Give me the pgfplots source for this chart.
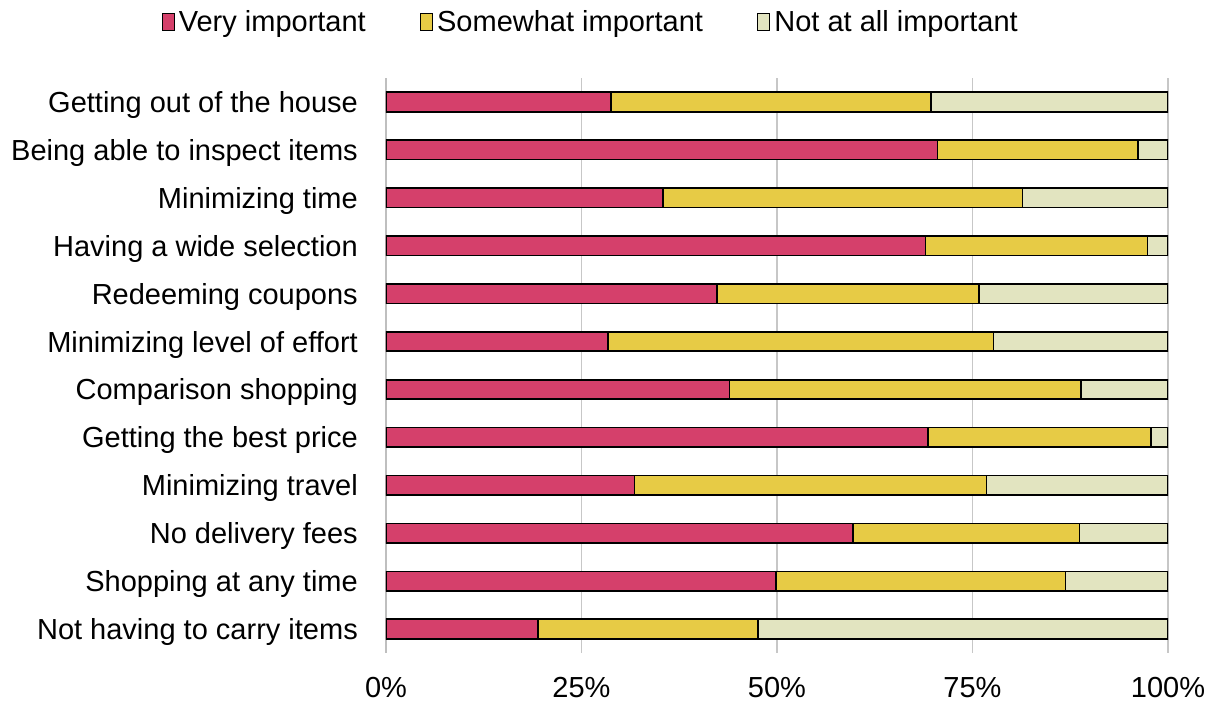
\documentclass[border=0pt]{standalone}
\usepackage{pgfplots}
\usepackage{pgfplotstable}
\usepackage{fontspec}
\setmainfont{Liberation Sans}
\pgfplotsset{compat=1.18}
\definecolor{cVery}{HTML}{D5406B}
\definecolor{cSome}{HTML}{E7CB45}
\definecolor{cNot}{HTML}{E2E4C0}
\pgfplotstableread{
idx very some not
0 28.8 40.9 30.3
1 70.5 25.7 3.8
2 35.4 46.0 18.6
3 69.0 28.4 2.6
4 42.3 33.5 24.2
5 28.4 49.3 22.3
6 43.9 45.0 11.1
7 69.3 28.5 2.2
8 31.8 45.0 23.2
9 59.7 29.0 11.3
10 49.9 37.0 13.1
11 19.4 28.2 52.4
}\datatab
\begin{document}
\begin{tikzpicture}[font=\fontsize{29bp}{34bp}\selectfont]
\useasboundingbox (0,0) rectangle (1211bp,702bp);
\begin{axis}[
  at={(386bp,49bp)}, anchor=south west,
  scale only axis, width=782bp, height=575bp,
  xbar stacked, bar width=19.5bp,
  xmin=0, xmax=100, ymin=-0.5, ymax=11.5, y dir=reverse,
  xtick={0,25,50,75,100},
  xticklabels={0\%,25\%,50\%,75\%,100\%},
  ytick={0,...,11},
  yticklabels={Getting out of the house,Being able to inspect items,Minimizing time,Having a wide selection,Redeeming coupons,Minimizing level of effort,Comparison shopping,Getting the best price,Minimizing travel,No delivery fees,Shopping at any time,Not having to carry items},
  major tick length=0pt,
  axis lines*=left,
  x axis line style={draw=none},
  y axis line style={draw=black!25, line width=1.2bp},
  xmajorgrids, grid style={draw=black!22, line width=1.2bp},
  /pgf/number format/assume math mode=true,
  xticklabel style={inner sep=0pt, yshift=-24bp},
  yticklabel style={inner sep=0pt, xshift=-28bp, yshift=-3bp},
  legend style={at={(0.263,1.0974)}, anchor=center, draw=none, fill=none,
    legend columns=3,
    /tikz/every even column/.append style={column sep=50bp},
    nodes={inner sep=4bp}},
  legend image code/.code={\draw[#1, line width=1.3bp] (0bp,-8.5bp) rectangle (12bp,8.5bp);},
  every axis plot/.append style={draw=black, line width=1.6bp},
]
\addplot[fill=cVery] table[x=very, y=idx] {\datatab};
\addplot[fill=cSome] table[x=some, y=idx] {\datatab};
\addplot[fill=cNot] table[x=not, y=idx] {\datatab};
\legend{Very important,Somewhat important,Not at all important}
\end{axis}
\end{tikzpicture}
\end{document}
